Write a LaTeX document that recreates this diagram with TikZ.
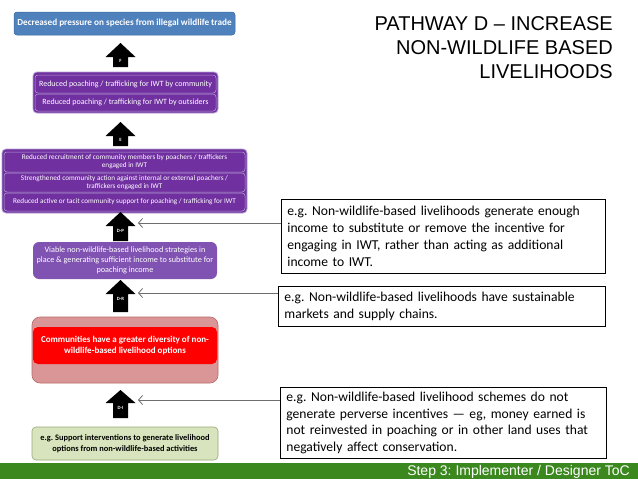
\documentclass[tikz,border=0pt]{standalone}
\usepackage{fontspec}
\setmainfont{Carlito}
\newfontfamily\arialf{Liberation Sans}
\usetikzlibrary{arrows.meta}
\frenchspacing
\definecolor{ppl}{RGB}{112,48,160}
\definecolor{lav}{RGB}{180,160,210}
\definecolor{vpl}{RGB}{128,82,178}
\definecolor{bluebox}{RGB}{79,129,189}
\definecolor{blueedge}{RGB}{60,105,160}
\definecolor{pinkbox}{RGB}{218,150,150}
\definecolor{pinkedge}{RGB}{185,105,105}
\definecolor{greenbox}{RGB}{215,228,189}
\definecolor{greenedge}{RGB}{150,168,120}
\definecolor{footgreen}{RGB}{58,136,30}
\definecolor{connc}{RGB}{110,110,110}
\newcommand{\blkarrow}[7]{%
  \fill[black] (#2-15,#4) -- (#2,#3) -- (#2+15,#4) -- (#2+7.5,#4) -- (#2+7.5,#5) -- (#2-7.5,#5) -- (#2-7.5,#4) -- cycle;
  \node[arrlab] (#1) at (#2,#6) {#7};}
\begin{document}
\frenchspacing
\begin{tikzpicture}[x=1pt,y=-1pt,
  box/.style={rounded corners=3pt, inner sep=0pt, align=center},
  bar/.style={box, fill=ppl, draw=lav, line width=0.5pt, text=white},
  grp/.style={rounded corners=4pt, fill=ppl, draw=lav, line width=0.8pt},
  note/.style={draw=black, line width=0.8pt, anchor=north west, inner xsep=6pt, inner ysep=0pt, align=left, font=\fontsize{13.6}{16.8}\selectfont},
  arrlab/.style={text=white, font=\fontsize{4.8}{5}\selectfont\bfseries, inner sep=0pt},
  conn/.style={draw=connc, line width=0.8pt, -{Straight Barb[length=4pt,width=9pt]}}
]
\useasboundingbox (0,0) rectangle (638,479);
\fill[white] (0,0) rectangle (638,479);

% title
\node[anchor=north east, align=right, inner sep=0pt, font=\arialf\fontsize{20}{24}\selectfont] (title) at (613,16.5)
  {PATHWAY D – INCREASE\\NON-WILDLIFE BASED\\LIVELIHOODS};

% footer
\fill[footgreen] (0,463) rectangle (638,479);
\node[anchor=base east, inner sep=0pt, text=white, font=\arialf\fontsize{14}{16}\selectfont] (foot) at (630,475.5)
  {Step 3: Implementer / Designer ToC};

% top goal
\node[box, fill=bluebox, draw=blueedge, line width=0.5pt, text=white, minimum width=221, minimum height=23,
  font=\fontsize{9.2}{10}\selectfont\bfseries] (goal) at (124.5,23.5)
  {Decreased pressure on species from illegal wildlife trade};

% group A
\node[grp, minimum width=185, minimum height=41] (grpA) at (125.5,92.5) {};
\node[bar, minimum width=181, minimum height=18, font=\fontsize{8}{9}\selectfont] (a1) at (125.5,84)
  {Reduced poaching / trafficking for IWT by community};
\node[bar, minimum width=181, minimum height=17, font=\fontsize{8}{9}\selectfont] (a2) at (125.5,102.5)
  {Reduced poaching / trafficking for IWT by outsiders};

% group B
\node[grp, minimum width=245, minimum height=64] (grpB) at (124.5,181) {};
\node[bar, minimum width=241, minimum height=20, font=\fontsize{7.2}{8.2}\selectfont] (b1) at (124.5,162)
  {Reduced recruitment of community members by poachers / traffickers\\engaged in IWT};
\node[bar, minimum width=241, minimum height=19, font=\fontsize{7.2}{8.2}\selectfont] (b2) at (124.5,182.5)
  {Strengthened community action against internal or external poachers /\\traffickers engaged in IWT};
\node[bar, minimum width=241, minimum height=18, font=\fontsize{7.2}{8.2}\selectfont] (b3) at (124.5,202)
  {Reduced active or tacit community support for poaching / trafficking for IWT};

% viable
\node[box, rounded corners=6pt, fill=vpl, text=white, minimum width=184, minimum height=37,
  font=\fontsize{8.2}{9.8}\selectfont] (viable) at (125,260.5)
  {Viable non-wildlife-based livelihood strategies in\\place \& generating  sufficient income to substitute for\\poaching income};

% red group
\node[box, rounded corners=8pt, fill=pinkbox, draw=pinkedge, line width=0.6pt, minimum width=186, minimum height=66] (redgrp) at (125,350) {};
\node[box, rounded corners=5pt, fill=red, text=white, minimum width=184, minimum height=37,
  font=\fontsize{9}{11.5}\selectfont\bfseries] (divers) at (125,345.5)
  {Communities have a greater diversity of non-\\wildlife-based livelihood options};

% green
\node[box, rounded corners=4pt, fill=greenbox, draw=greenedge, line width=0.6pt, minimum width=186, minimum height=33,
  font=\fontsize{8.4}{11}\selectfont\bfseries] (support) at (125,443.5)
  {e.g. Support interventions to generate livelihood\\options from non-wildlife-based activities};

% block arrows
\blkarrow{aF}{120.5}{43}{57}{67}{61}{F}
\blkarrow{aE}{120.5}{122}{136}{146}{140}{E}
\blkarrow{aDP}{120.5}{212}{226}{241}{231}{D-P}
\blkarrow{aDR}{120.5}{280}{294}{312}{299}{D-R}
\blkarrow{aDI}{120.5}{390}{403}{418}{408}{D-I}

% notes
\node[note, minimum width=320, minimum height=74, text width=312] (n1) at (281,199)
  {e.g. Non-wildlife-based livelihoods generate enough\\income to substitute or remove the incentive for\\engaging in IWT, rather than acting as additional\\income to IWT.};
\node[note, minimum width=323, minimum height=40, text width=315] (n2) at (278,286)
  {e.g. Non-wildlife-based livelihoods have sustainable\\markets and supply chains.};
\node[note, minimum width=322, minimum height=71, text width=314] (n3) at (280,387)
  {e.g. Non-wildlife-based livelihood schemes do not\\generate perverse incentives — eg, money earned is\\not reinvested in poaching or in other land uses that\\negatively affect conservation.};

% connectors
\coordinate (cDP) at (138,223);
\coordinate (cDR) at (138,293);
\coordinate (cDI) at (138,400);
\draw[conn] (n1.west |- cDP) -- (cDP);
\draw[conn] (n2.west |- cDR) -- (cDR);
\draw[conn] (n3.west |- cDI) -- (cDI);
\end{tikzpicture}
\end{document}
